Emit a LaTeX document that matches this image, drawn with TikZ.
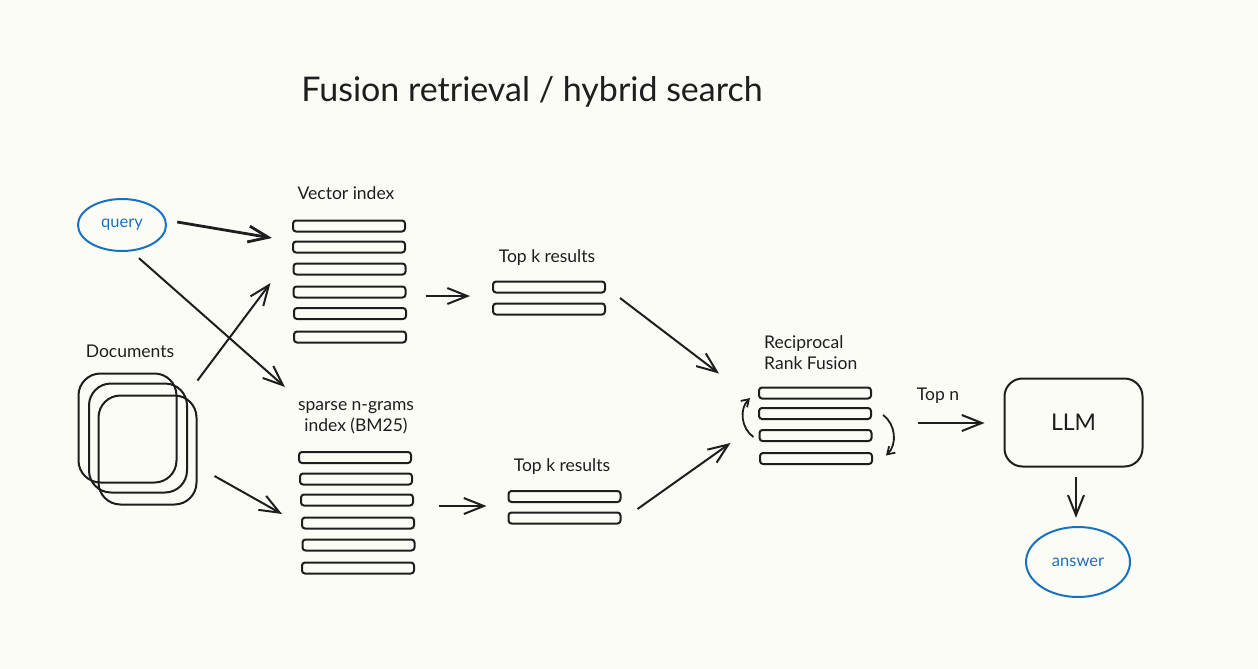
\documentclass[tikz,border=0pt]{standalone}
\usepackage{fontspec}
\setmainfont{Lato}
\usetikzlibrary{arrows.meta,calc}
\definecolor{bg}{HTML}{FCFCF7}
\definecolor{ink}{HTML}{1E1E1E}
\definecolor{exblue}{HTML}{1971C2}
\begin{document}
\begin{tikzpicture}[x=1pt,y=-1pt,
  bar/.style={draw=ink,line width=2pt,rounded corners=3pt,minimum width=112pt,minimum height=11pt,inner sep=0pt},
  doc/.style={draw=ink,line width=2pt,rounded corners=22pt,minimum width=98pt,minimum height=109pt,inner sep=0pt},
  arr/.style={draw=ink,line width=2pt,-{Straight Barb[length=20pt,width=16pt]}},
  lbl/.style={text=ink,font=\fontsize{17.5}{21}\selectfont,inner sep=0pt},
  bubble/.style={text=exblue,font=\fontsize{16.5}{19}\selectfont,inner sep=0pt}]
\useasboundingbox (0,0) rectangle (1258,669);
\fill[bg] (0,0) rectangle (1258,669);

% title
\node[text=ink,font=\fontsize{34}{40}\selectfont,inner sep=0pt] (title) at (532,92) {Fusion retrieval / hybrid search};

% query
\draw[exblue,line width=2pt] (122,225) ellipse [x radius=44,y radius=26];
\node[bubble,minimum width=88pt,minimum height=52pt] (query) at (122,225) {query};

% vector index
\node[lbl] (vlabel) at (346,193) {Vector index};
\node[bar] (v1) at (349,226) {};
\node[bar] (v2) at (349,247) {};
\node[bar] (v3) at (349.5,269) {};
\node[bar] (v4) at (349.5,292) {};
\node[bar] (v5) at (350,313.5) {};
\node[bar] (v6) at (350,337) {};

% documents
\node[lbl] (dlabel) at (130,351) {Documents};
\node[doc] (d1) at (127.5,428) {};
\node[doc] (d2) at (138,438) {};
\node[doc] (d3) at (147.5,450) {};

% sparse index
\node[lbl,align=center] (slabel) at (356,418) {sparse n-grams\\index (BM25)};
\node[bar] (s1) at (355,457.5) {};
\node[bar] (s2) at (356,479) {};
\node[bar] (s3) at (357,500) {};
\node[bar] (s4) at (358,523) {};
\node[bar] (s5) at (358.5,545) {};
\node[bar] (s6) at (358,568) {};

% top k results
\node[lbl] (tlabel) at (547,258) {Top k results};
\node[bar] (t1) at (549,287) {};
\node[bar] (t2) at (549,309) {};
\node[lbl] (blabel) at (562,467) {Top k results};
\node[bar] (b1) at (564.5,496.5) {};
\node[bar] (b2) at (564.5,518) {};

% RRF
\node[lbl,align=left,anchor=west] (rlabel) at (764,352.5) {Reciprocal\\Rank Fusion};
\node[bar] (r1) at (815,393) {};
\node[bar] (r2) at (815,413.5) {};
\node[bar] (r3) at (815.5,435.5) {};
\node[bar] (r4) at (816,458.5) {};

% LLM
\node[draw=ink,line width=2pt,rounded corners=18pt,minimum width=138pt,minimum height=88pt,inner sep=0pt,text=ink,font=\fontsize{23}{27}\selectfont] (llm) at (1073.5,422.5) {LLM};
\node[lbl] (topn) at (938,396) {Top n};

% answer
\draw[exblue,line width=2pt] (1078,562) ellipse [x radius=52,y radius=35];
\node[bubble,minimum width=104pt,minimum height=70pt] (answer) at (1078,562) {answer};

% connectors
\draw[arr,line width=2.8pt] ($(query.east)+(11,-3)$) -- ($(v2.west)+(-20,-9)$);
\draw[arr] ($(query.south)+(17,7)$) -- ($(s1.north west)+(-13,-64)$);
\draw[arr] ($(d3.north east)+(0,-14)$) -- ($(v4.west)+(-22,-9)$);
\draw[arr] ($(d3.east)+(17,26)$) -- ($(s3.west)+(-18,14)$);
\draw[arr] ($(v4.east)+(19,4)$) -- ($(t1.west)+(-22,9)$);
\draw[arr] ($(s3.east)+(25,6)$) -- ($(b1.west)+(-21,9.5)$);
\draw[arr] ($(t1.east)+(14,11)$) -- ($(r1.north west)+(-39,-13)$);
\draw[arr] ($(b1.east)+(16,12.5)$) -- ($(r3.west)+(-28,7.5)$);
\draw[arr] ($(r2.east)+(46,9.5)$) -- ($(llm.west)+(-19,0.5)$);
\draw[arr] ($(llm.south)+(2.5,9)$) -- ($(answer.north)+(-2,-9)$);
\draw[draw=ink,line width=1.8pt,-{Straight Barb[length=7pt,width=9pt]}] ($(r3.west)+(-5,1.5)$) to[bend left=50] ($(r1.west)+(-8,5)$);
\draw[draw=ink,line width=1.8pt,-{Straight Barb[length=7pt,width=9pt]}] ($(r2.east)+(11,1.5)$) to[bend left=50] ($(r4.east)+(13,-3)$);
\end{tikzpicture}
\end{document}
